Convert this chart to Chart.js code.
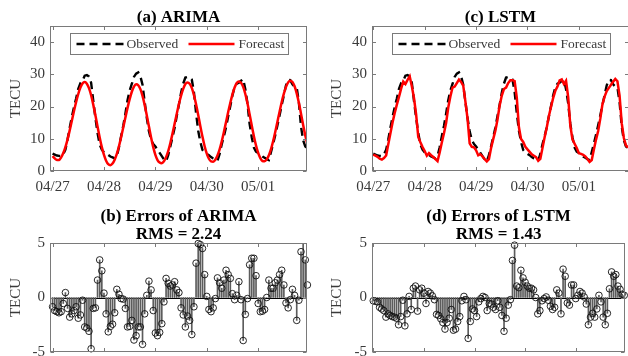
<!DOCTYPE html>
<html><head><meta charset="utf-8">
<script src="https://cdn.jsdelivr.net/npm/chart.js@4.4.0/dist/chart.umd.min.js"></script>
<style>
html,body{margin:0;padding:0;width:628px;height:356px;overflow:hidden;background:#fff;}
canvas{position:absolute;}
</style></head><body>
<canvas id="cA" width="320" height="200" style="left:0;top:0;width:320px;height:200px"></canvas>
<canvas id="cC" width="320" height="200" style="left:310px;top:0;width:320px;height:200px"></canvas>
<canvas id="cB" width="320" height="180" style="left:0;top:196px;width:320px;height:180px"></canvas>
<canvas id="cD" width="320" height="180" style="left:310px;top:196px;width:320px;height:180px"></canvas>
<script>
// ---------- data (hourly, starting 04/27 00 UT) ----------
const dayLabels = ['04/27','04/28','04/29','04/30','05/01'];
const tickHours = [0,24,48,72,96];
const topYTicks = [0,10,20,30,40];
const errYTicks = [-5,0,5];
const panelTitles = ['(a) ARIMA','(c) LSTM'];
const errTitles = [['(b) Errors of ARIMA','RMS = 2.24'],['(d) Errors of LSTM','RMS = 1.43']];
const legendLabels = ['Observed','Forecast'];

const observed = [5.4,5.1,4.8,4.7,4.6,5.2,6.6,9.8,13.4,16.8,19.8,22.5,25.5,27.3,28.0,29.6,29.8,29.3,27.4,21.8,16.5,11.8,8.2,6.6,
5.8,5.3,5.0,4.5,4.2,3.9,4.6,7.4,10.8,14.0,17.8,22.0,25.0,27.0,29.2,30.2,30.6,29.4,26.8,21.5,16.5,12.3,9.7,8.4,
7.6,6.6,5.6,4.6,3.6,3.0,4.9,7.7,10.5,13.4,17.1,20.6,24.3,27.1,29.0,29.2,28.9,28.4,24.5,18.0,12.5,9.0,6.5,5.7,
5.3,4.9,4.3,3.9,3.6,3.2,5.3,8.3,10.8,13.6,17.0,20.2,23.5,26.0,27.1,27.4,28.0,28.5,25.4,21.0,14.6,10.5,7.3,6.0,
5.6,5.1,4.5,4.1,3.7,3.4,5.9,8.5,11.2,14.2,17.3,20.5,23.5,26.6,28.3,28.2,26.9,26.2,25.9,21.3,13.8,9.5,7.6,7.1];

const arimaForecast = [4.6,3.9,3.4,3.4,4.2,5.6,7.4,9.8,12.6,15.6,18.6,21.4,23.9,25.9,27.2,27.6,27.1,25.7,23.5,20.6,17.3,13.8,10.4,7.4,
5.0,3.2,2.1,1.8,2.3,3.5,5.3,7.7,10.5,13.5,16.6,19.6,22.3,24.6,26.2,26.9,26.6,25.4,23.3,20.5,17.2,13.8,10.4,7.4,
5.0,3.4,2.6,2.4,3.0,4.3,6.2,8.7,11.6,14.7,17.8,20.8,23.4,25.5,27.0,27.5,27.1,25.8,23.6,20.7,17.4,13.9,10.6,7.7,
5.4,3.8,3.0,2.9,3.5,4.8,6.7,9.2,12.1,15.2,18.3,21.2,23.8,25.9,27.3,27.8,27.4,26.1,23.9,21.0,17.6,14.1,10.8,7.9,
5.6,4.0,3.1,3.0,3.6,4.9,6.8,9.3,12.2,15.3,18.4,21.4,24.0,26.1,27.5,28.0,27.6,26.3,24.1,21.2,17.8,14.3,11.0,8.3];

const lstmForecast = [5.1,4.75,4.4,3.8,3.55,4.0,4.8,8.3,11.75,15.05,18.0,20.6,23.0,25.55,27.75,27.0,28.3,29.4,26.3,22.65,17.55,10.55,8.9,7.45,
6.2,4.75,5.55,4.9,4.35,3.7,3.05,5.75,8.85,11.7,14.9,19.7,23.1,25.9,26.2,27.3,28.4,27.65,26.5,21.6,16.3,8.55,7.5,7.35,
6.4,4.85,5.2,4.5,3.7,3.0,3.7,7.15,9.9,12.5,16.0,20.3,23.4,25.45,25.9,27.3,28.2,28.2,27.9,22.8,13.55,9.9,9.0,7.5,
6.7,5.95,5.15,4.75,4.3,3.2,3.8,7.1,10.5,13.5,17.05,19.95,22.7,24.9,26.2,28.1,28.4,27.0,28.0,22.95,14.1,9.8,8.45,7.15,
5.5,5.3,5.05,4.5,3.75,2.8,3.4,6.7,9.75,12.4,16.25,20.7,23.1,24.8,25.8,26.75,27.7,28.55,27.85,23.4,14.85,10.25,7.9,7.3];

const arimaError = [-0.85,-1.2,-1.3,-1.4,-1.3,-0.55,0.45,-1.0,-1.8,-1.5,-1.2,-0.85,-1.9,-1.6,-0.25,-2.7,-2.8,-3.1,-4.7,-1.0,
-0.95,1.6,3.45,2.45,0.4,-1.5,-3.15,-2.65,-2.45,-1.4,0.75,0.3,-0.1,-0.15,-1.0,-2.7,-2.65,-2.1,-3.9,-3.5,
-2.7,-2.7,-4.3,-1.5,0.2,1.5,0.7,-1.2,-3.25,-3.5,-3.2,-2.4,-0.4,1.75,1.3,1.05,1.15,1.45,0.7,0.45,
-0.95,-1.6,-2.7,-1.7,-2.1,-3.4,-0.85,3.15,4.95,4.85,4.5,2.1,0.1,-1.1,-1.3,-0.95,-0.1,1.8,1.35,0.85,
1.6,2.5,2.1,1.75,0.35,-0.2,0.2,1.45,-0.2,-3.95,-1.55,-0.1,3.0,3.6,3.6,2.0,-0.55,-1.3,-1.25,-1.1,
0,1.6,0.85,0.85,1.35,1.6,2.1,2.5,1.15,-0.5,-0.95,-0.2,0.75,0.2,-2.1,-0.25,4.2,5.6,3.45,1.15];

const lstmError = [-0.3,-0.35,-0.4,-0.9,-1.05,-1.2,-1.8,-1.5,-1.65,-1.75,-1.8,-1.9,-2.5,-1.75,-0.25,-2.6,-1.5,0.1,-1.1,0.85,
1.05,-1.25,0.7,0.85,0.4,-0.55,0.55,0.4,0.15,-0.2,-1.55,-1.65,-1.95,-2.3,-2.9,-2.3,-1.9,-1.1,-3.0,-2.9,
-2.2,-1.75,-0.3,0.1,-0.2,-3.75,-2.2,-1.05,-1.2,-1.75,-0.4,-0.1,0.1,0,-1.2,-0.55,-0.6,-0.9,-1.1,-0.3,
-0.9,-1.65,-3.1,-1.9,-0.7,-0.2,3.4,4.8,1.05,0.9,2.5,1.8,1.4,1.05,0.85,0.85,0.7,0,-1.5,-1.2,
-0.3,-0.1,0.05,-0.25,-0.8,-1.1,-0.9,0.7,0.4,-1.5,2.6,1.95,-0.5,-0.7,1.15,1.15,-0.1,0.2,0.55,0.4,
0.05,-0.6,-2.5,-1.8,-1.45,-1.8,-1.05,0.2,-0.4,-1.8,-2.5,-1.45,0.8,2.35,1.95,2.1,1.05,0.75,0.3,0.2];

// ---------- style ----------
const SERIF = '"Liberation Serif","Times New Roman",serif';
const TEXT = '#3a3a3a';
const AXIS = '#7a7a7a';
const tickFont = {family: SERIF, size: 15};

const pts = arr => arr.map((v, i) => ({x: i, y: v}));

const boxPlugin = {
  id: 'box',
  beforeDatasetsDraw(chart, args, o) {
    if (!o.baseline) return;
    const {ctx, chartArea: a, scales: {y}} = chart;
    const py = Math.round(y.getPixelForValue(0)) + 0.5;
    ctx.save();
    ctx.strokeStyle = '#000'; ctx.lineWidth = 1;
    ctx.beginPath(); ctx.moveTo(a.left, py); ctx.lineTo(a.right, py); ctx.stroke();
    ctx.restore();
  },
  afterDraw(chart, args, o) {
    const {ctx, chartArea: a, scales: {x, y}} = chart;
    ctx.save();
    ctx.strokeStyle = AXIS; ctx.lineWidth = 1;
    const l = Math.round(a.left) + 0.5, t = Math.round(a.top) + 0.5;
    const r = Math.round(a.right) - 0.5, b = Math.round(a.bottom) - 0.5;
    ctx.strokeRect(l, t, r - l, b - t);
    const L = 3.5;
    ctx.beginPath();
    x.ticks.forEach(tk => {
      const px = Math.round(x.getPixelForValue(tk.value)) + 0.5;
      ctx.moveTo(px, b); ctx.lineTo(px, b - L);
      ctx.moveTo(px, t); ctx.lineTo(px, t + L);
    });
    y.ticks.forEach(tk => {
      const py = Math.round(y.getPixelForValue(tk.value)) + 0.5;
      ctx.moveTo(l, py); ctx.lineTo(l + L, py);
      ctx.moveTo(r, py); ctx.lineTo(r - L, py);
    });
    ctx.stroke();
    const cx = (a.left + a.right) / 2;
    ctx.fillStyle = '#000';
    ctx.font = 'bold 17px ' + SERIF;
    ctx.textAlign = 'center'; ctx.textBaseline = 'middle';
    o.title.forEach((s, i) => ctx.fillText(s, cx, o.titleY[i]));
    if (o.legend) {
      const bw = 218, bh = 21;
      const bx = Math.round(cx - bw / 2) + 0.5, by = Math.round(a.top + 7) + 0.5;
      ctx.fillStyle = '#fff'; ctx.fillRect(bx, by, bw, bh);
      ctx.strokeStyle = AXIS; ctx.lineWidth = 1; ctx.strokeRect(bx, by, bw, bh);
      const my = by + bh / 2;
      ctx.lineWidth = 2.5; ctx.strokeStyle = '#000'; ctx.setLineDash([8, 5]);
      ctx.beginPath(); ctx.moveTo(bx + 6, my); ctx.lineTo(bx + 53, my); ctx.stroke();
      ctx.setLineDash([]); ctx.strokeStyle = '#ff0000';
      ctx.beginPath(); ctx.moveTo(bx + 118, my); ctx.lineTo(bx + 164, my); ctx.stroke();
      ctx.fillStyle = TEXT; ctx.font = '13.5px ' + SERIF; ctx.textAlign = 'left';
      ctx.fillText(legendLabels[0], bx + 56, my + 0.5);
      ctx.fillText(legendLabels[1], bx + 168, my + 0.5);
    }
    ctx.restore();
  }
};

function xScale(xmin, showLabels, h) {
  return {
    type: 'linear', min: xmin, max: xmin + 120, offset: false,
    afterBuildTicks: s => { s.ticks = tickHours.map(v => ({value: v})); },
    ticks: {display: showLabels, autoSkip: false, maxRotation: 0, padding: 7, color: TEXT, font: tickFont,
      callback: v => dayLabels[tickHours.indexOf(v)] ?? ''},
    grid: {display: false, drawTicks: false, offset: false}, border: {display: false},
    afterFit: s => { s.height = h; }
  };
}
function yScale(min, max, ticks, w, titlePad) {
  return {
    min, max,
    afterBuildTicks: s => { s.ticks = ticks.map(v => ({value: v})); },
    ticks: {padding: 5, color: TEXT, font: tickFont},
    title: {display: true, text: 'TECU', color: TEXT, font: tickFont, padding: {top: titlePad, bottom: 0}},
    grid: {display: false, drawTicks: false}, border: {display: false},
    afterFit: s => { s.width = w; }
  };
}

function topChart(id, fc, curved, xmin, title, padL, yW, padR) {
  const fcSet = {data: pts(fc), borderColor: '#ff0000', borderWidth: 2.5, pointRadius: 0, fill: false};
  if (curved) fcSet.cubicInterpolationMode = 'monotone'; else fcSet.tension = 0;
  return new Chart(document.getElementById(id), {
    type: 'line',
    data: {datasets: [fcSet,
      {data: pts(observed), borderColor: '#000', borderWidth: 2.4, borderDash: [8, 5], pointRadius: 0, tension: 0, fill: false}]},
    options: {
      responsive: false, animation: false, devicePixelRatio: 1,
      layout: {padding: {left: padL, right: padR, top: 26, bottom: 4}},
      plugins: {legend: {display: false}, tooltip: {enabled: false},
        box: {title: [title], titleY: [17.5], legend: true}},
      scales: {x: xScale(xmin, true, 25), y: yScale(0, 45, topYTicks, yW, 7.5)}
    },
    plugins: [boxPlugin]
  });
}

function errChart(id, err, xmin, titles, padL, yW, padR) {
  return new Chart(document.getElementById(id), {
    type: 'bar',
    data: {datasets: [
      {type: 'scatter', data: pts(err), pointRadius: 3.3, pointBorderWidth: 0.9, pointBorderColor: '#111',
        pointBackgroundColor: 'rgba(0,0,0,0)', showLine: false, clip: {left: 5, right: 5, top: 3.5, bottom: 5}},
      {type: 'bar', data: pts(err), backgroundColor: '#5c5c5c', barThickness: 1, borderWidth: 0}
    ]},
    options: {
      responsive: false, animation: false, devicePixelRatio: 1,
      layout: {padding: {left: padL, right: padR, top: 47, bottom: 0}},
      plugins: {legend: {display: false}, tooltip: {enabled: false},
        box: {title: titles, titleY: [21, 39], legend: false, baseline: true}},
      scales: {x: xScale(xmin, false, 24), y: yScale(-5, 5, errYTicks, yW, 7.5)}
    },
    plugins: [boxPlugin]
  });
}

topChart('cA', arimaForecast, true, -1.2, panelTitles[0], 0, 50, 13);
topChart('cC', lstmForecast, false, -0.6, panelTitles[1], 11, 51, 1);
errChart('cB', arimaError, -1.2, errTitles[0], 0, 50, 13);
errChart('cD', lstmError, -0.6, errTitles[1], 11, 51, 1);
</script>
</body></html>
